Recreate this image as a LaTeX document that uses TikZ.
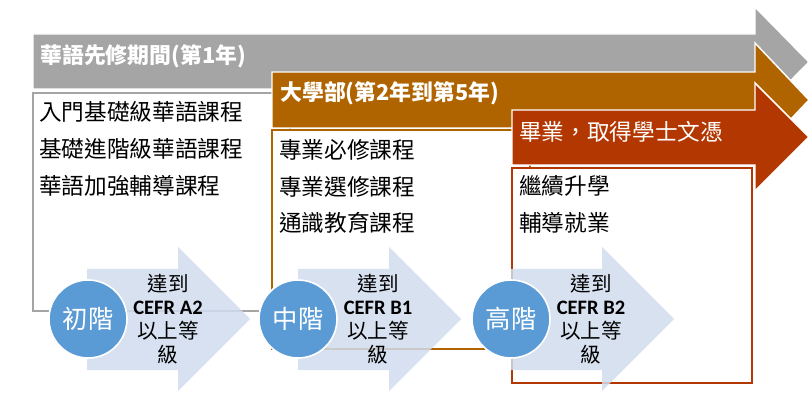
\documentclass[tikz,border=0pt]{standalone}
\usepackage{fontspec}
\newfontfamily\cjk{Noto Sans CJK TC}
\newfontfamily\latb{Carlito}
\definecolor{grayA}{HTML}{A5A5A5}
\definecolor{brownA}{HTML}{AF6400}
\definecolor{redA}{HTML}{B33700}
\definecolor{blueC}{HTML}{5B9BD5}
\definecolor{chev}{HTML}{D0DCEE}
\tikzset{
  band/.style={draw=white, line width=1.1pt},
  box/.style={fill=white, line width=1.3pt},
  chevshape/.style={fill=chev, fill opacity=0.85, draw=none},
  stage/.style={circle, fill=blueC, draw=white, line width=1.2pt, minimum size=78*0.75pt, inner sep=0pt, text=white, font=\cjk\fontsize{19}{22}\selectfont},
  head/.style={anchor=west, inner sep=0pt, text=white, font=\cjk\bfseries\fontsize{16.4}{19}\selectfont},
  item/.style={anchor=west, inner sep=0pt, text=black, font=\cjk\fontsize{17}{20}\selectfont},
  goal/.style={align=center, inner sep=0pt, text=black, font=\cjk\fontsize{15.4}{17.8}\selectfont}
}
\begin{document}
\begin{tikzpicture}[x=0.75pt,y=-0.75pt]
\useasboundingbox (0,0) rectangle (811,406);
% gray arrow and box
\draw[band, fill=grayA] (33,34) -- (755,34) -- (755,7) -- (809,62) -- (755,117) -- (755,89) -- (33,89) -- cycle;
\draw[box, draw=grayA] (33,93) rectangle (290,311);
% brown arrow and box
\draw[band, fill=brownA] (272,72) -- (755,72) -- (755,43) -- (809,100) -- (755,157) -- (755,128) -- (272,128) -- cycle;
\draw[box, draw=brownA] (272,130) rectangle (530,349);
% red arrow and box
\draw[band, fill=redA] (512,110) -- (755,110) -- (755,83) -- (809,137) -- (755,191) -- (755,165) -- (512,165) -- cycle;
\draw[box, draw=redA] (512,168) rectangle (752,383);
% headers
\node[head] (h1) at (40,56) {華語先修期間(第1年)};
\node[head] (h2) at (280,93) {大學部(第2年到第5年)};
\node[head, font=\cjk\fontsize{17}{20}\selectfont] (h3) at (519,132) {畢業，取得學士文憑};
% items
\node[item] (g1) at (39,112) {入門基礎級華語課程};
\node[item] (g2) at (39,149) {基礎進階級華語課程};
\node[item] (g3) at (39,186) {華語加強輔導課程};
\node[item] (b1) at (279,150) {專業必修課程};
\node[item] (b2) at (279,187) {專業選修課程};
\node[item] (b3) at (279,223) {通識教育課程};
\node[item] (r1) at (519,186) {繼續升學};
\node[item] (r2) at (519,223) {輔導就業};
% chevrons
\foreach \cx in {87,298,511}{
  \path[chevshape] (\cx,269) -- (\cx+91,269) -- (\cx+91,247) -- (\cx+163,319) -- (\cx+91,391) -- (\cx+91,370) -- (\cx,370) -- cycle;
}
% circles
\node[stage] (s1) at (88,319) {初階};
\node[stage] (s2) at (298,319) {中階};
\node[stage] (s3) at (511,319) {高階};
% goals
\node[goal] (t1) at (168,319) {達到\\{\latb\bfseries CEFR A2}\\以上等\\級};
\node[goal] (t2) at (378,319) {達到\\{\latb\bfseries CEFR B1}\\以上等\\級};
\node[goal] (t3) at (591,319) {達到\\{\latb\bfseries CEFR B2}\\以上等\\級};
\end{tikzpicture}
\end{document}
